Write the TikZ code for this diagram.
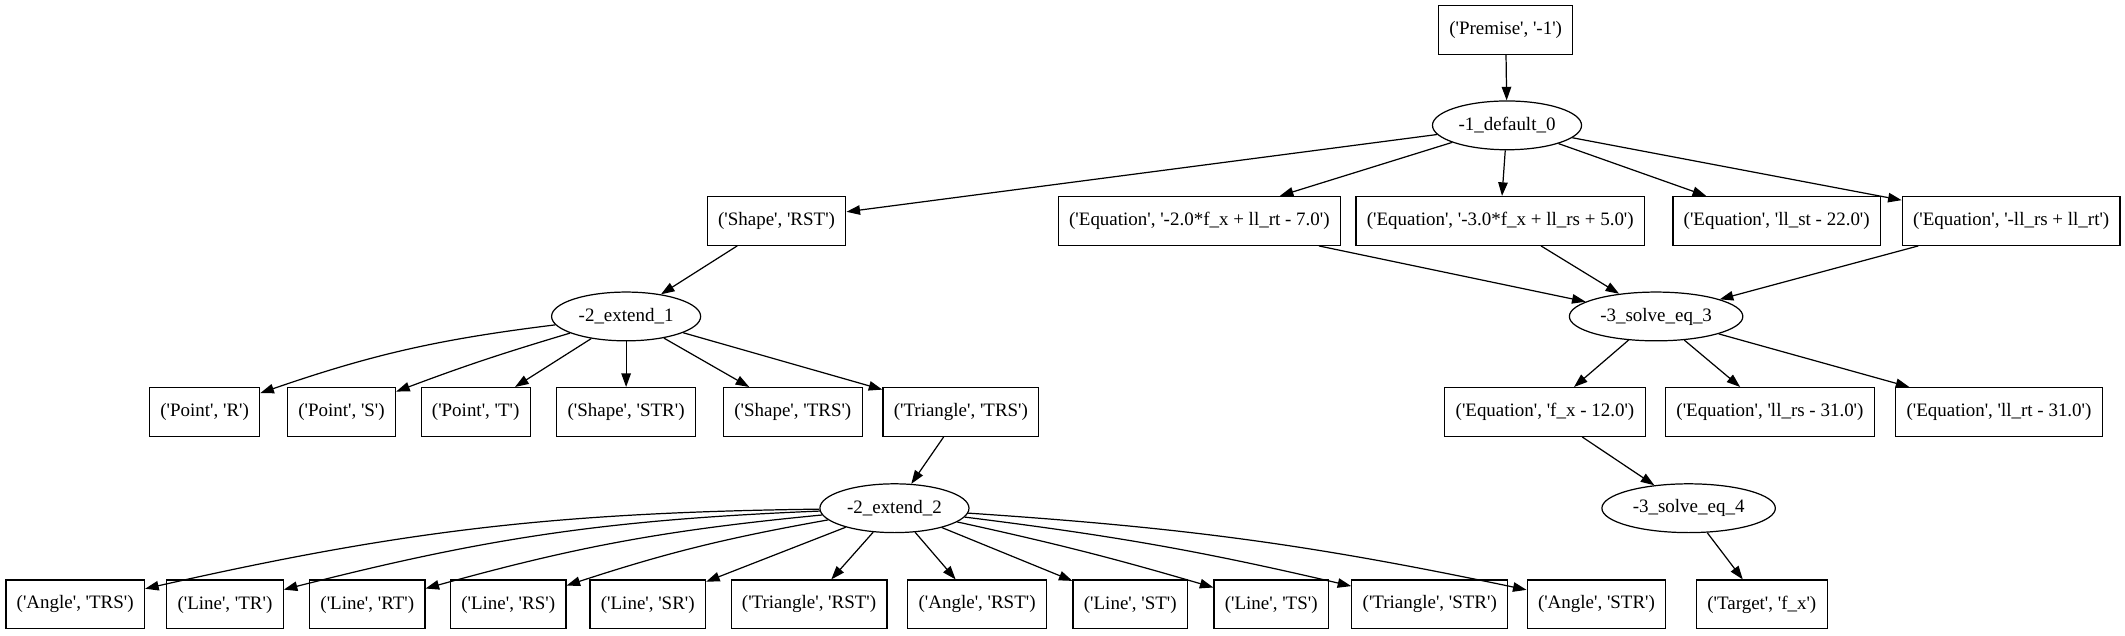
\documentclass[tikz,border=0pt]{standalone}
\usepackage{fontspec}
\setmainfont{Liberation Serif}[Ligatures=TeXOff]
\usetikzlibrary{arrows.meta,shapes.geometric}
\begin{document}
\begin{tikzpicture}[x=1pt,y=-1pt,
  every node/.style={font=\fontsize{14}{16}\selectfont},
  bx/.style={draw,line width=0.9pt,rectangle,minimum height=36pt,inner xsep=8pt,inner ysep=0pt},
  el/.style={draw,line width=0.9pt,ellipse,minimum height=36pt,inner sep=0pt},
  ar/.style={line width=0.9pt,-{Triangle[length=10pt,width=7pt]}},
]
\useasboundingbox (0,0) rectangle (1568,469);
% row 0
\node[bx] (pre) at (1111,22) {('Premise', '-1')};
% row 1
\node[el,minimum width=110pt] (d0) at (1112,92.5) {-1\_default\_0};
% row 2
\node[bx] (shRST) at (573,163) {('Shape', 'RST')};
\node[bx] (eq1) at (885,163) {('Equation', '-2.0*f\_x + ll\_rt - 7.0')};
\node[bx] (eq2) at (1107,163) {('Equation', '-3.0*f\_x + ll\_rs + 5.0')};
\node[bx] (eq3) at (1311,163) {('Equation', 'll\_st - 22.0')};
\node[bx] (eq4) at (1484,163) {('Equation', '-ll\_rs + ll\_rt')};
% row 3
\node[el,minimum width=110pt] (e1) at (462,233.5) {-2\_extend\_1};
\node[el,minimum width=128pt] (s3) at (1222,233.5) {-3\_solve\_eq\_3};
% row 4
\node[bx] (pR) at (151,304) {('Point', 'R')};
\node[bx] (pS) at (252,304) {('Point', 'S')};
\node[bx] (pT) at (351,304) {('Point', 'T')};
\node[bx] (shSTR) at (462,304) {('Shape', 'STR')};
\node[bx] (shTRS) at (585,304) {('Shape', 'TRS')};
\node[bx] (trTRS) at (709,304) {('Triangle', 'TRS')};
\node[bx] (eqf) at (1140,304) {('Equation', 'f\_x - 12.0')};
\node[bx] (eqrs) at (1306,304) {('Equation', 'll\_rs - 31.0')};
\node[bx] (eqrt) at (1475,304) {('Equation', 'll\_rt - 31.0')};
% row 5
\node[el,minimum width=110pt] (e2) at (660,375) {-2\_extend\_2};
\node[el,minimum width=128pt] (s4) at (1246,375) {-3\_solve\_eq\_4};
% row 6
\node[bx] (aTRS) at (55.5,446) {('Angle', 'TRS')};
\node[bx] (lTR) at (166,446) {('Line', 'TR')};
\node[bx] (lRT) at (271,446) {('Line', 'RT')};
\node[bx] (lRS) at (375,446) {('Line', 'RS')};
\node[bx] (lSR) at (478,446) {('Line', 'SR')};
\node[bx] (tRST) at (597,446) {('Triangle', 'RST')};
\node[bx] (aRST) at (721,446) {('Angle', 'RST')};
\node[bx] (lST) at (834,446) {('Line', 'ST')};
\node[bx] (lTS) at (938,446) {('Line', 'TS')};
\node[bx] (tSTR) at (1055,446) {('Triangle', 'STR')};
\node[bx] (aSTR) at (1178,446) {('Angle', 'STR')};
\node[bx] (tgt) at (1300,446) {('Target', 'f\_x')};
% edges
\draw[ar] (pre) -- (d0);
\draw[ar] (d0) -- (shRST);
\draw[ar] (d0) -- (eq1);
\draw[ar] (d0) -- (eq2);
\draw[ar] (d0) -- (eq3);
\draw[ar] (d0) -- (eq4);
\draw[ar] (shRST) -- (e1);
\draw[ar] (eq1) -- (s3);
\draw[ar] (eq2) -- (s3);
\draw[ar] (eq4) -- (s3);
\draw[ar] (e1) to[bend right=6] (pR);
\draw[ar] (e1) to[bend right=2] (pS);
\draw[ar] (e1) -- (pT);
\draw[ar] (e1) -- (shSTR);
\draw[ar] (e1) -- (shTRS);
\draw[ar] (e1) -- (trTRS);
\draw[ar] (s3) -- (eqf);
\draw[ar] (s3) -- (eqrs);
\draw[ar] (s3) -- (eqrt);
\draw[ar] (trTRS) -- (e2);
\draw[ar] (eqf) -- (s4);
\draw[ar] (s4) -- (tgt);
\draw[ar] (e2) to[bend right=6] (aTRS);
\draw[ar] (e2) to[bend right=6] (lTR);
\draw[ar] (e2) to[bend right=5] (lRT);
\draw[ar] (e2) to[bend right=4] (lRS);
\draw[ar] (e2) -- (lSR);
\draw[ar] (e2) -- (tRST);
\draw[ar] (e2) -- (aRST);
\draw[ar] (e2) -- (lST);
\draw[ar] (e2) to[bend left=2] (lTS);
\draw[ar] (e2) to[bend left=3] (tSTR);
\draw[ar] (e2) to[bend left=4] (aSTR);
\end{tikzpicture}
\end{document}
